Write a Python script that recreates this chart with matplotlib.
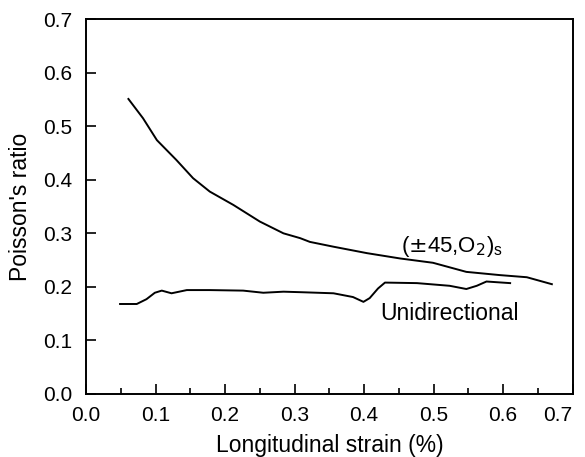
import matplotlib.pyplot as plt
import numpy as np
from matplotlib.ticker import MultipleLocator

plt.rcParams['font.family'] = ['Liberation Sans', 'DejaVu Sans']

# (+-45, O2)s laminate
lam_strain = [0.061, 0.082, 0.102, 0.130, 0.154, 0.178, 0.212, 0.250, 0.284,
              0.308, 0.322, 0.356, 0.404, 0.452, 0.499, 0.547, 0.595, 0.634,
              0.670]
lam_ratio = [0.551, 0.515, 0.474, 0.437, 0.403, 0.378, 0.353, 0.322, 0.300,
             0.291, 0.284, 0.275, 0.263, 0.253, 0.245, 0.228, 0.222, 0.218,
             0.205]

# unidirectional laminate
uni_strain = [0.049, 0.073, 0.087, 0.099, 0.109, 0.123, 0.145, 0.178, 0.226,
              0.255, 0.284, 0.310, 0.356, 0.384, 0.399, 0.408, 0.420, 0.430,
              0.476, 0.523, 0.547, 0.562, 0.576, 0.610]
uni_ratio = [0.168, 0.168, 0.177, 0.189, 0.193, 0.188, 0.194, 0.194, 0.193,
             0.189, 0.191, 0.190, 0.188, 0.181, 0.172, 0.179, 0.197, 0.208,
             0.207, 0.202, 0.196, 0.202, 0.210, 0.207]

fig = plt.figure(figsize=(5.85, 4.57), dpi=100)
ax = fig.add_axes([0.147, 0.138, 0.832, 0.820])

ax.plot(lam_strain, lam_ratio, color='black', lw=1.4)
ax.plot(uni_strain, uni_ratio, color='black', lw=1.4)

ax.text(0.527, 0.266, r'($\pm$45,O$_2$)$_\mathregular{s}$', fontsize=16,
        ha='center', va='baseline')
ax.text(0.523, 0.139, 'Unidirectional', fontsize=16.5, ha='center',
        va='baseline')

ax.set_xlim(0, 0.7)
ax.set_ylim(0, 0.7)
ax.xaxis.set_major_locator(MultipleLocator(0.1))
ax.xaxis.set_minor_locator(MultipleLocator(0.05))
ax.yaxis.set_major_locator(MultipleLocator(0.1))
ax.xaxis.set_major_formatter(plt.FormatStrFormatter('%.1f'))
ax.yaxis.set_major_formatter(plt.FormatStrFormatter('%.1f'))
ax.tick_params(which='major', direction='in', length=7, width=1.2,
               labelsize=15)
ax.tick_params(axis='x', which='major', pad=9)
ax.tick_params(axis='y', which='major', pad=10)
ax.tick_params(which='minor', direction='in', length=4, width=1.2)
for s in ax.spines.values():
    s.set_linewidth(1.4)

ax.set_xlabel('Longitudinal strain (%)', fontsize=16.5, labelpad=6)
ax.set_ylabel("Poisson's ratio", fontsize=16.5, labelpad=8)

# keep the 0.7 tick label inside the figure
fig.canvas.draw()
for lab in ax.get_xticklabels():
    if lab.get_text() == '0.7':
        lab.set_horizontalalignment('right')
        lab.set_x(lab.get_position()[0])

fig.savefig('out.png', dpi=100)
